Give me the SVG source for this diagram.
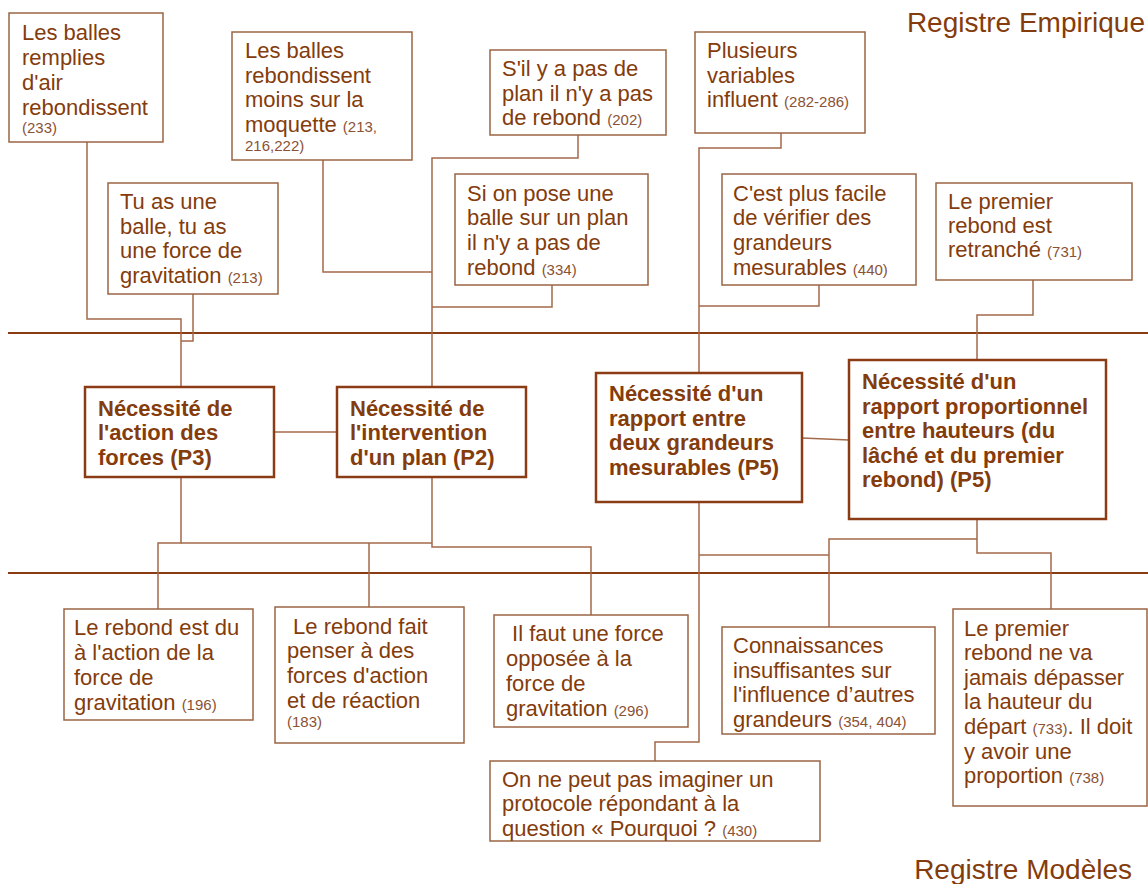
<svg xmlns="http://www.w3.org/2000/svg" width="1148" height="884" viewBox="0 0 1148 884">
<style>
.box{fill:#fff;stroke:#9a6444;stroke-width:1.5}
.pbox{fill:#fff;stroke:#8b3c14;stroke-width:2.5}
.t{font-family:"Liberation Sans",Arial,sans-serif;font-size:22px;fill:#843c0c}
.b{font-family:"Liberation Sans",Arial,sans-serif;font-size:22px;font-weight:bold;fill:#843c0c}
.n{font-size:15px;fill:#8a5234}
.reg{font-family:"Liberation Sans",Arial,sans-serif;font-size:28px;fill:#843c0c}
.c{fill:none;stroke:#a4694a;stroke-width:1.5}
.h{stroke:#8b3c14;stroke-width:2}
</style>
<rect width="1148" height="884" fill="#fff"/>
<g id="registers">
<line class="h" x1="8" y1="333" x2="1148" y2="333"/>
<line class="h" x1="8" y1="573" x2="1148" y2="573"/>
<text class="reg" x="1145" y="32" text-anchor="end">Registre Empirique</text>
<text class="reg" x="1132" y="879" text-anchor="end">Registre Modèles</text>
</g>
<g id="connectors">
<polyline class="c" points="87,142 87,319 181,319 181,387"/>
<polyline class="c" points="193,294 193,341 181,341"/>
<polyline class="c" points="323,160 323,272 432,272"/>
<polyline class="c" points="578,135 578,158 432,158 432,387"/>
<polyline class="c" points="552,285 552,307 432,307"/>
<polyline class="c" points="781,133 781,148 699,148 699,373"/>
<polyline class="c" points="819,285 819,306 699,306"/>
<polyline class="c" points="1033,280 1033,315 977,315 977,360"/>
<line class="c" x1="274" y1="432" x2="337" y2="432"/>
<line class="c" x1="802" y1="438" x2="849" y2="440"/>
<polyline class="c" points="181,477 181,543 158,543 158,609"/>
<polyline class="c" points="181,543 432,543"/>
<polyline class="c" points="369,543 369,607"/>
<polyline class="c" points="432,477 432,547 591,547 591,615"/>
<polyline class="c" points="699,502 699,742 655,742 655,761"/>
<polyline class="c" points="699,555 829,555"/>
<polyline class="c" points="977,519 977,553 1051,553 1051,609"/>
<polyline class="c" points="977,539 829,539 829,627"/>
</g>
<g id="n1">
<rect class="box" x="9" y="13" width="154" height="129"/>
<text class="t" x="22" y="40">Les balles</text>
<text class="t" x="22" y="65">remplies</text>
<text class="t" x="22" y="90">d'air</text>
<text class="t" x="22" y="115">rebondissent</text>
<text class="t n" x="22" y="133">(233)</text>
</g>
<g id="n2">
<rect class="box" x="232" y="32" width="180" height="128"/>
<text class="t" x="245" y="58">Les balles</text>
<text class="t" x="245" y="83">rebondissent</text>
<text class="t" x="245" y="107">moins sur la</text>
<text class="t" x="245" y="132">moquette <tspan class="n">(213,</tspan></text>
<text class="t n" x="245" y="151">216,222)</text>
</g>
<g id="n3">
<rect class="box" x="108" y="183" width="170" height="111"/>
<text class="t" x="120" y="209">Tu as une</text>
<text class="t" x="120" y="234">balle, tu as</text>
<text class="t" x="120" y="258">une force de</text>
<text class="t" x="120" y="283">gravitation <tspan class="n">(213)</tspan></text>
</g>
<g id="n4">
<rect class="box" x="490" y="50" width="176" height="85"/>
<text class="t" x="502" y="76">S'il y a pas de</text>
<text class="t" x="502" y="101">plan il n'y a pas</text>
<text class="t" x="502" y="125">de rebond <tspan class="n">(202)</tspan></text>
</g>
<g id="n5">
<rect class="box" x="455" y="174" width="193" height="111"/>
<text class="t" x="467" y="201">Si on pose une</text>
<text class="t" x="467" y="225">balle sur un plan</text>
<text class="t" x="467" y="250">il n'y a pas de</text>
<text class="t" x="467" y="275">rebond <tspan class="n">(334)</tspan></text>
</g>
<g id="n6">
<rect class="box" x="695" y="32" width="170" height="101"/>
<text class="t" x="707" y="58">Plusieurs</text>
<text class="t" x="707" y="83">variables</text>
<text class="t" x="707" y="107">influent <tspan class="n">(282-286)</tspan></text>
</g>
<g id="n7">
<rect class="box" x="722" y="174" width="194" height="111"/>
<text class="t" x="733" y="201">C'est plus facile</text>
<text class="t" x="733" y="225">de vérifier des</text>
<text class="t" x="733" y="250">grandeurs</text>
<text class="t" x="733" y="275">mesurables <tspan class="n">(440)</tspan></text>
</g>
<g id="n8">
<rect class="box" x="936" y="183" width="196" height="97"/>
<text class="t" x="948" y="209">Le premier</text>
<text class="t" x="948" y="233">rebond est</text>
<text class="t" x="948" y="257">retranché <tspan class="n">(731)</tspan></text>
</g>
<g id="p3">
<rect class="pbox" x="85" y="387" width="189" height="90"/>
<text class="b" x="98" y="416">Nécessité de</text>
<text class="b" x="98" y="440">l'action des</text>
<text class="b" x="98" y="465">forces (P3)</text>
</g>
<g id="p2">
<rect class="pbox" x="337" y="387" width="189" height="90"/>
<text class="b" x="350" y="416">Nécessité de</text>
<text class="b" x="350" y="440">l'intervention</text>
<text class="b" x="350" y="465">d'un plan (P2)</text>
</g>
<g id="p5a">
<rect class="pbox" x="596" y="373" width="206" height="129"/>
<text class="b" x="609" y="401">Nécessité d'un</text>
<text class="b" x="609" y="426">rapport entre</text>
<text class="b" x="609" y="450">deux grandeurs</text>
<text class="b" x="609" y="475">mesurables (P5)</text>
</g>
<g id="p5b">
<rect class="pbox" x="849" y="360" width="257" height="159"/>
<text class="b" x="862" y="389">Nécessité d'un</text>
<text class="b" x="862" y="414">rapport proportionnel</text>
<text class="b" x="862" y="438">entre hauteurs (du</text>
<text class="b" x="862" y="463">lâché et du premier</text>
<text class="b" x="862" y="487">rebond) (P5)</text>
</g>
<g id="m1">
<rect class="box" x="64" y="609" width="189" height="111"/>
<text class="t" x="74" y="635">Le rebond est du</text>
<text class="t" x="74" y="660">à l'action de la</text>
<text class="t" x="74" y="685">force de</text>
<text class="t" x="74" y="710">gravitation <tspan class="n">(196)</tspan></text>
</g>
<g id="m2">
<rect class="box" x="275" y="607" width="189" height="136"/>
<text class="t" x="287" y="634" xml:space="preserve"> Le rebond fait</text>
<text class="t" x="287" y="658">penser à des</text>
<text class="t" x="287" y="683">forces d'action</text>
<text class="t" x="287" y="708">et de réaction</text>
<text class="t n" x="287" y="727">(183)</text>
</g>
<g id="m3">
<rect class="box" x="494" y="615" width="194" height="112"/>
<text class="t" x="506" y="641" xml:space="preserve"> Il faut une force</text>
<text class="t" x="506" y="666">opposée à la</text>
<text class="t" x="506" y="691">force de</text>
<text class="t" x="506" y="716">gravitation <tspan class="n">(296)</tspan></text>
</g>
<g id="m4">
<rect class="box" x="490" y="761" width="330" height="80"/>
<text class="t" x="502" y="787">On ne peut pas imaginer un</text>
<text class="t" x="502" y="811">protocole répondant à la</text>
<text class="t" x="502" y="836">question « Pourquoi ? <tspan class="n">(430)</tspan></text>
</g>
<g id="m5">
<rect class="box" x="722" y="627" width="213" height="107"/>
<text class="t" x="733" y="653">Connaissances</text>
<text class="t" x="733" y="678">insuffisantes sur</text>
<text class="t" x="733" y="702">l'influence d’autres</text>
<text class="t" x="733" y="727">grandeurs <tspan class="n">(354, 404)</tspan></text>
</g>
<g id="m6">
<rect class="box" x="953" y="609" width="194" height="197"/>
<text class="t" x="964" y="636">Le premier</text>
<text class="t" x="964" y="660">rebond ne va</text>
<text class="t" x="964" y="685">jamais dépasser</text>
<text class="t" x="964" y="709">la hauteur du</text>
<text class="t" x="964" y="734">départ <tspan class="n">(733)</tspan>. Il doit</text>
<text class="t" x="964" y="759">y avoir une</text>
<text class="t" x="964" y="783">proportion <tspan class="n">(738)</tspan></text>
</g>
</svg>
